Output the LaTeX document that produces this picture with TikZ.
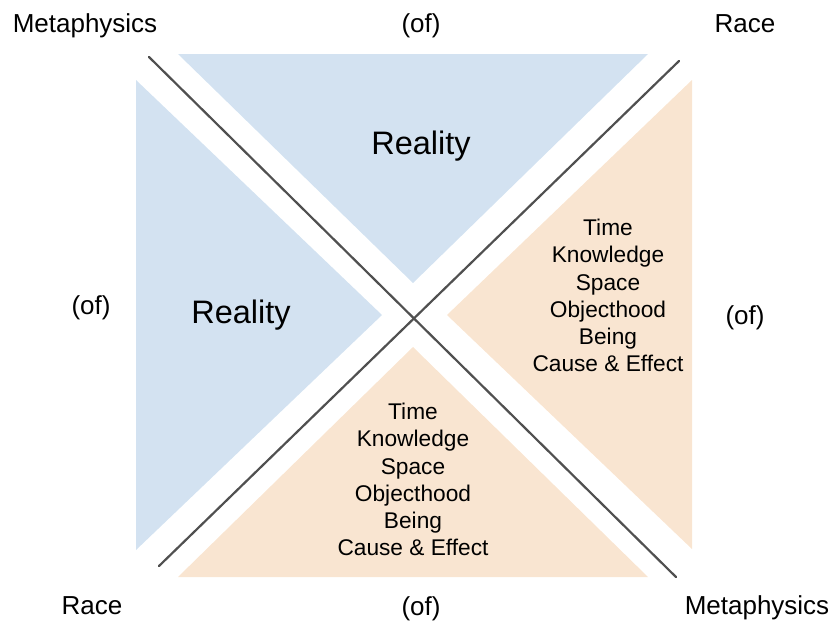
\documentclass[tikz,border=0pt]{standalone}
\usepackage{fontspec}
\setmainfont{Liberation Sans}
\definecolor{realityblue}{HTML}{D3E2F1}
\definecolor{conceptorange}{HTML}{F9E5D1}
\definecolor{crossgray}{HTML}{505050}
\tikzset{
  corner/.style={font=\fontsize{26}{30}\selectfont, anchor=base, inner sep=0pt},
  realitylabel/.style={font=\fontsize{32.5}{36}\selectfont, anchor=base, inner sep=0pt},
  conceptlist/.style={font=\fontsize{22.7}{27.2}\selectfont, align=center, anchor=north, inner sep=0pt},
  crossline/.style={draw=crossgray, line width=2.2pt, line cap=round},
}
\begin{document}
\begin{tikzpicture}[x=1pt, y=-1pt]
  \useasboundingbox (0,0) rectangle (830,622);

  % four triangular panels
  \fill[realityblue] (178,54) -- (648,54) -- (413,283) -- cycle;
  \fill[realityblue] (136,80) -- (136,550) -- (382,315) -- cycle;
  \fill[conceptorange] (692,80) -- (692,549) -- (447,315) -- cycle;
  \fill[conceptorange] (178,577) -- (648,577) -- (413,347) -- cycle;

  % the crossing diagonals
  \coordinate (tl) at (149,57);
  \coordinate (br) at (676,577);
  \coordinate (tr) at (679,61);
  \coordinate (bl) at (159,566);
  \draw[crossline] (tl) -- (br);
  \draw[crossline] (tr) -- (bl);

  % corner and edge labels
  \node[corner] (metaTL) at (85,32) {Metaphysics};
  \node[corner] (ofT) at (421,32) {(of)};
  \node[corner] (raceTR) at (745,32) {Race};
  \node[corner] (ofL) at (91,314) {(of)};
  \node[corner] (ofR) at (745,324) {(of)};
  \node[corner] (raceBL) at (92,614) {Race};
  \node[corner] (ofB) at (421,615) {(of)};
  \node[corner] (metaBR) at (757,614) {Metaphysics};

  % panel contents
  \node[realitylabel] (realityTop) at (421,154) {Reality};
  \node[realitylabel] (realityLeft) at (241,323) {Reality};
  \node[conceptlist] (listRight) at (608,219) {Time\\Knowledge\\Space\\Objecthood\\Being\\Cause \& Effect};
  \node[conceptlist] (listBottom) at (413,403) {Time\\Knowledge\\Space\\Objecthood\\Being\\Cause \& Effect};
\end{tikzpicture}
\end{document}
